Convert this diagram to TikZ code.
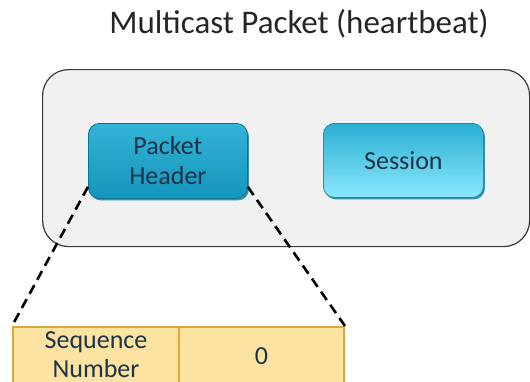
\documentclass[tikz,border=0pt]{standalone}
\usepackage{fontspec}
\setmainfont{Carlito}
\usetikzlibrary{shadows}
\definecolor{framefill}{HTML}{F1F1F1}
\definecolor{framedraw}{HTML}{3A3A3A}
\definecolor{phtop}{HTML}{33B3D6}
\definecolor{phbot}{HTML}{1495BC}
\definecolor{phedge}{HTML}{0C7699}
\definecolor{sstop}{HTML}{2AAFD4}
\definecolor{ssbot}{HTML}{8BE8FB}
\definecolor{ssedge}{HTML}{1A8FB3}
\definecolor{boxtext}{HTML}{1C3348}
\definecolor{tabfill}{HTML}{FCE3A2}
\definecolor{tabdraw}{HTML}{D7A93A}
\begin{document}
\begin{tikzpicture}[x=1pt,y=-1pt,
  frame/.style={draw=framedraw, line width=1.2pt, fill=framefill, rounded corners=26pt, anchor=north west, inner sep=0pt},
  btn/.style={rounded corners=11pt, anchor=north west, inner sep=0pt, align=center,
    font=\fontsize{26}{30}\selectfont, text=boxtext,
    drop shadow={shadow xshift=1.5pt, shadow yshift=-2pt, fill=phedge, opacity=0.8}},
  phbox/.style={btn, top color=phtop, bottom color=phbot, draw=phedge, line width=0.8pt},
  ssbox/.style={btn, top color=sstop, bottom color=ssbot, draw=ssedge, line width=0.8pt},
  cell/.style={draw=tabdraw, line width=2pt, fill=tabfill, anchor=north west, inner sep=0pt, align=center,
    font=\fontsize{26}{29}\selectfont, text=boxtext},
  zoomline/.style={line width=2.6pt, dash pattern=on 10pt off 6pt, black}
]
\useasboundingbox (0,0) rectangle (530,381);
\clip (0,0) rectangle (530,381);
\fill[white] (0,0) rectangle (530,381);
\node[anchor=base, font=\fontsize{33}{38}\selectfont, text=black!85] (title) at (299,33) {Multicast Packet (heartbeat)};
\node[frame, minimum width=487pt, minimum height=177pt] (frame) at (42,69) {};
\node[phbox, minimum width=159pt, minimum height=75pt] (ph) at (88,123) {Packet\\Header};
\node[ssbox, minimum width=160pt, minimum height=74pt] (ss) at (323,123) {Session};
\node[cell, minimum width=166pt, minimum height=56pt] (seq) at (12,326) {Sequence\\Number};
\node[cell, minimum width=165pt, minimum height=58pt] (zero) at (178,326) {0};
\draw[zoomline] ([yshift=12pt]ph.south west) -- (seq.north west);
\draw[zoomline] ([yshift=12pt]ph.south east) -- (zero.north east);
\end{tikzpicture}
\end{document}
